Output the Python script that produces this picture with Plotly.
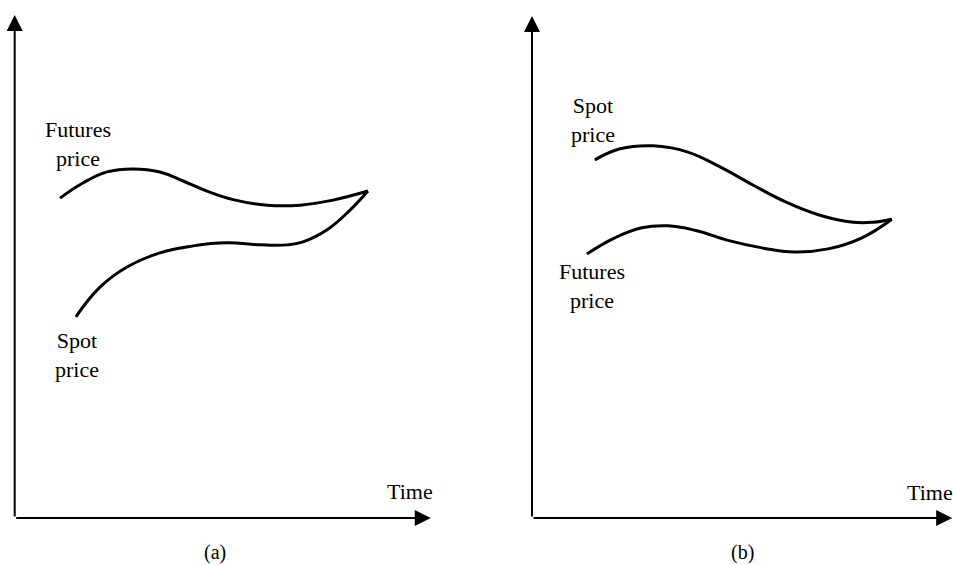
import plotly.graph_objects as go

# ---- data (time, price) in abstract units; axes run 0..10 ----
# Panel (a)
a_futures_t = [1.09, 1.64, 2.22, 2.84, 3.49, 4.05, 4.62, 5.25, 6.07, 6.86, 7.65, 8.49]
a_futures_p = [6.36, 6.66, 6.88, 6.94, 6.88, 6.70, 6.50, 6.33, 6.22, 6.22, 6.32, 6.50]
a_spot_t = [1.47, 2.05, 2.70, 3.49, 4.29, 5.10, 5.90, 6.55, 6.93, 7.51, 8.06, 8.49]
a_spot_p = [4.00, 4.59, 4.99, 5.27, 5.41, 5.47, 5.43, 5.43, 5.49, 5.73, 6.12, 6.50]
# Panel (b)
b_spot_t = [1.51, 2.12, 2.91, 3.73, 4.52, 5.31, 6.11, 6.92, 7.72, 8.20, 8.65]
b_spot_p = [7.12, 7.34, 7.40, 7.28, 6.98, 6.62, 6.28, 6.02, 5.88, 5.88, 5.94]
b_futures_t = [1.32, 1.99, 2.64, 3.27, 3.92, 4.71, 5.53, 6.32, 7.12, 7.93, 8.65]
b_futures_p = [5.25, 5.57, 5.77, 5.81, 5.72, 5.52, 5.37, 5.29, 5.35, 5.57, 5.94]

axis_label = "Time"
panel_labels = ["(a)", "(b)"]

FONT = "Liberation Serif, Times New Roman, serif"
LINE = dict(color="black", width=3, shape="spline", smoothing=1.2)

fig = go.Figure()
fig.add_trace(go.Scatter(x=a_futures_t, y=a_futures_p, mode="lines", line=LINE,
                         xaxis="x", yaxis="y", hoverinfo="skip"))
fig.add_trace(go.Scatter(x=a_spot_t, y=a_spot_p, mode="lines", line=LINE,
                         xaxis="x", yaxis="y", hoverinfo="skip"))
fig.add_trace(go.Scatter(x=b_spot_t, y=b_spot_p, mode="lines", line=LINE,
                         xaxis="x2", yaxis="y2", hoverinfo="skip"))
fig.add_trace(go.Scatter(x=b_futures_t, y=b_futures_p, mode="lines", line=LINE,
                         xaxis="x2", yaxis="y2", hoverinfo="skip"))

hidden = dict(visible=False, showgrid=False, zeroline=False, fixedrange=True)
fig.update_layout(
    width=953, height=565,
    margin=dict(l=0, r=0, t=0, b=0),
    paper_bgcolor="white", plot_bgcolor="white",
    showlegend=False,
    xaxis=dict(domain=[0, 0.5], range=[-0.353, 11.10], **hidden),
    yaxis=dict(domain=[0, 1], range=[-0.934, 10.298], **hidden),
    xaxis2=dict(domain=[0.5, 1], range=[-1.334, 10.12], **hidden),
    yaxis2=dict(domain=[0, 1], range=[-0.934, 10.298], anchor="x2", **hidden),
)

annotations = []
def arrow(xr, yr, x, y, ax, ay):
    annotations.append(dict(
        xref=xr, yref=yr, axref=xr, ayref=yr, x=x, y=y, ax=ax, ay=ay,
        text="", showarrow=True, arrowhead=2, arrowsize=1.6, arrowwidth=2,
        arrowcolor="black", standoff=0, startstandoff=0))

# axes with arrows
arrow("x", "y", 0, 10.0, 0, 0)
arrow("x", "y", 10.0, 0, 0, 0)
arrow("x2", "y2", 0, 9.98, 0, 0)
arrow("x2", "y2", 10.10, 0, 0, 0)

def label(xr, yr, x, y, text, size=22):
    annotations.append(dict(xref=xr, yref=yr, x=x, y=y, text=text,
                            showarrow=False, xanchor="center", yanchor="middle",
                            font=dict(family=FONT, size=size, color="black")))

label("x", "y", 1.52, 7.43, "Futures<br>price")
label("x", "y", 1.50, 3.25, "Spot<br>price")
label("x", "y", 9.50, 0.52, axis_label)
label("x", "y", 4.81, -0.68, panel_labels[0], size=20)
label("x2", "y2", 1.47, 7.91, "Spot<br>price")
label("x2", "y2", 1.44, 4.61, "Futures<br>price")
label("x2", "y2", 9.57, 0.50, axis_label)
label("x2", "y2", 5.07, -0.68, panel_labels[1], size=20)

fig.update_layout(annotations=annotations)
fig.write_html("out.html",
               config={"displayModeBar": False},
               post_script="document.body.style.margin='0px';")
